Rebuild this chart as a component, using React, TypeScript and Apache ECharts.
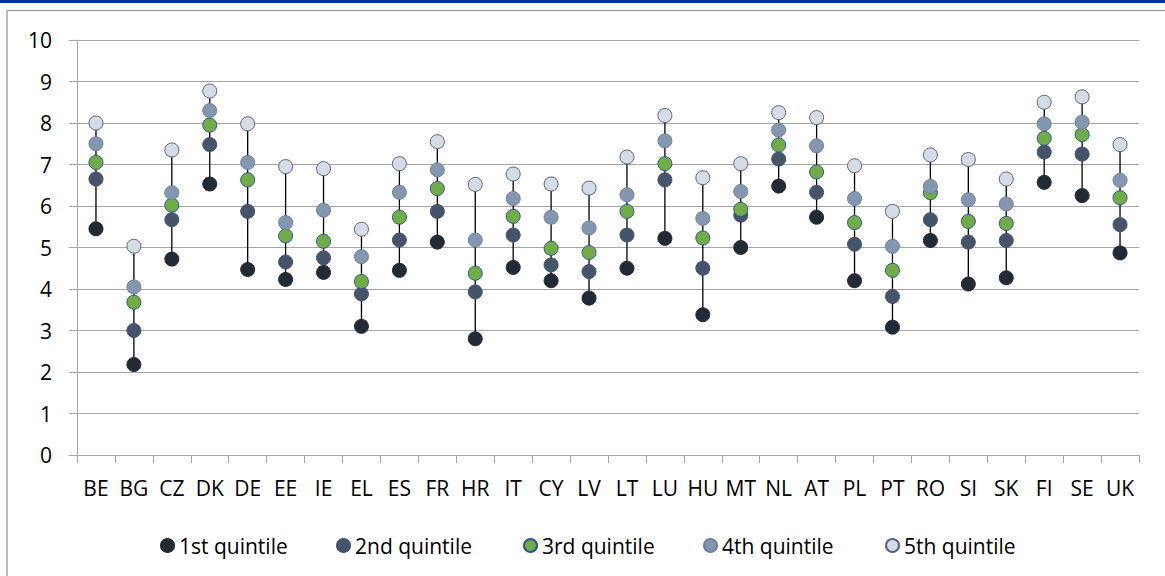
import React, { useEffect, useRef } from "react";
import * as echarts from "echarts";

const countries = ["BE","BG","CZ","DK","DE","EE","IE","EL","ES","FR","HR","IT","CY","LV","LT","LU","HU","MT","NL","AT","PL","PT","RO","SI","SK","FI","SE","UK"];
const q1 = [5.45,2.18,4.72,6.53,4.47,4.23,4.40,3.10,4.45,5.13,2.80,4.52,4.20,3.78,4.50,5.22,3.38,5.00,6.48,5.73,4.20,3.08,5.17,4.12,4.27,6.57,6.25,4.87];
const q2 = [6.65,3.00,5.67,7.48,5.87,4.65,4.75,3.88,5.18,5.87,3.93,5.30,4.58,4.42,5.30,6.63,4.50,5.78,7.13,6.33,5.08,3.82,5.67,5.13,5.17,7.30,7.25,5.55];
const q3 = [7.05,3.68,6.02,7.95,6.63,5.28,5.15,4.18,5.73,6.42,4.38,5.75,4.98,4.88,5.87,7.02,5.23,5.92,7.47,6.82,5.60,4.45,6.32,5.63,5.58,7.63,7.72,6.20];
const q4 = [7.50,4.05,6.32,8.30,7.05,5.60,5.90,4.78,6.33,6.87,5.18,6.18,5.73,5.47,6.27,7.57,5.70,6.35,7.83,7.45,6.18,5.03,6.47,6.15,6.05,7.98,8.02,6.62];
const q5 = [8.00,5.03,7.35,8.77,7.98,6.95,6.90,5.44,7.02,7.55,6.52,6.77,6.53,6.43,7.18,8.18,6.68,7.02,8.25,8.13,6.97,5.87,7.23,7.12,6.65,8.50,8.63,7.48];
const seriesNames = ["1st quintile","2nd quintile","3rd quintile","4th quintile","5th quintile"];
const yTicks = [0,1,2,3,4,5,6,7,8,9,10];

const FONT = "'Open Sans', 'Noto Sans', sans-serif";
const legendLefts = [155, 331, 518, 698, 880];

export default function App() {
  const ref = useRef<HTMLDivElement>(null);
  useEffect(() => {
    document.body.style.margin = "0";
    const chart = echarts.init(ref.current!, null, { renderer: "svg" });
    const fills = ["#222a35", "#44546a", "#70ad47", "#8497b0", "#d6dce5"];
    const borders = ["#222a35", "#44546a", "#2f5597", "#6f829b", "#56657d"];
    const datas = [q1, q2, q3, q4, q5];
    chart.setOption({
      animation: false,
      backgroundColor: "#ffffff",
      graphic: [
        { type: "rect", shape: { x: 0, y: 0, width: 1165, height: 3 }, style: { fill: "#00309a" } },
        { type: "rect", shape: { x: 7, y: 10.5, width: 1200, height: 700 }, style: { fill: "none", stroke: "#a6a6a6", lineWidth: 1.5 } },
      ],
      grid: { left: 77, right: 26, top: 40, bottom: 121, containLabel: false },
      legend: seriesNames.map((n, k) => ({
        data: [n],
        left: legendLefts[k],
        top: 530,
        icon: "circle",
        itemWidth: 13,
        itemHeight: 13,
        textStyle: { fontFamily: FONT, fontSize: 21, color: "#000" },
      })),
      xAxis: {
        type: "category",
        data: countries,
        boundaryGap: true,
        axisLine: { lineStyle: { color: "#a6a6a6", width: 1 } },
        axisTick: { show: true, length: 8, lineStyle: { color: "#a6a6a6" } },
        axisLabel: { fontFamily: FONT, fontSize: 21, color: "#000", margin: 22, interval: 0 },
      },
      yAxis: {
        type: "value",
        min: yTicks[0],
        max: yTicks[yTicks.length - 1],
        interval: 1,
        axisLine: { show: true, lineStyle: { color: "#a6a6a6", width: 1 } },
        axisTick: { show: true, length: 8, lineStyle: { color: "#a6a6a6" } },
        axisLabel: { fontFamily: FONT, fontSize: 21, color: "#000", margin: 25 },
        splitLine: { lineStyle: { color: "#a6a6a6", width: 1 } },
      },
      series: [
        {
          type: "custom",
          name: "hilo",
          data: countries.map((c, i) => [i, q1[i], q5[i]]),
          renderItem: (params: any, api: any) => {
            const lo = api.coord([api.value(0), api.value(1)]);
            const hi = api.coord([api.value(0), api.value(2)]);
            return {
              type: "line",
              shape: { x1: lo[0], y1: lo[1], x2: hi[0], y2: hi[1] },
              style: { stroke: "#000", lineWidth: 1.3 },
            };
          },
          z: 1,
          silent: true,
        },
        ...datas.map((d, k) => ({
          type: "scatter",
          name: seriesNames[k],
          data: d.map((v, i) => [i, v]),
          symbol: "circle",
          symbolSize: 14,
          itemStyle: { color: fills[k], borderColor: borders[k], borderWidth: 1, opacity: 1 },
          z: 2 + k,
        })),
      ],
    });
    return () => chart.dispose();
  }, []);
  return <div ref={ref} style={{ position: "absolute", left: 0, top: 0, width: 1165, height: 576 }} />;
}
